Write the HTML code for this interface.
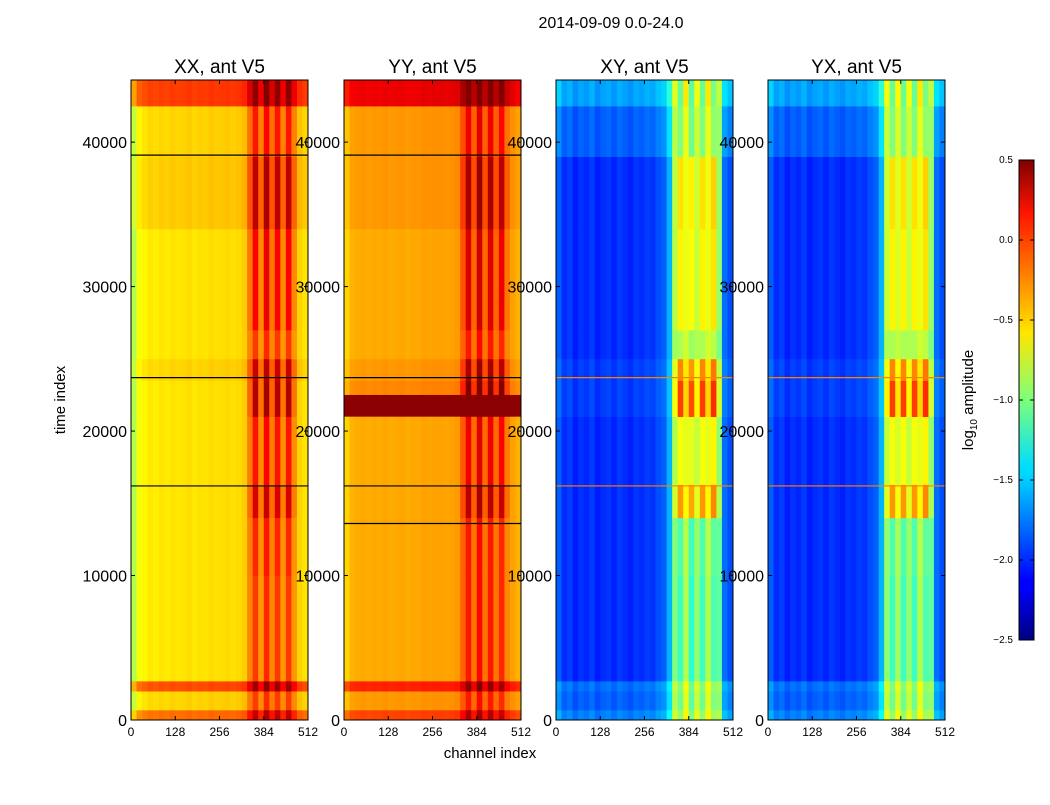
<!DOCTYPE html>
<html><head><meta charset="utf-8"><style>
body{margin:0;background:#fff;font-family:"Liberation Sans",sans-serif}
svg text{font-family:"Liberation Sans",sans-serif}
</style></head><body>
<svg id="fig" width="1050" height="800" xmlns="http://www.w3.org/2000/svg">
<rect width="1050" height="800" fill="#fff"/>
<text x="611" y="28" font-size="16" text-anchor="middle">2014-09-09 0.0-24.0</text>
<defs><linearGradient id="jet" x1="0" y1="1" x2="0" y2="0">
<stop offset="0" stop-color="#00007f"/><stop offset="0.11" stop-color="#0000ff"/><stop offset="0.125" stop-color="#0000ff"/><stop offset="0.34" stop-color="#00d4ff"/><stop offset="0.36" stop-color="#0df"/><stop offset="0.5" stop-color="#7dff7a"/><stop offset="0.64" stop-color="#ffe600"/><stop offset="0.89" stop-color="#ff1400"/><stop offset="1" stop-color="#7f0000"/></linearGradient></defs>
<g id="panels"></g>
<text x="490" y="758" font-size="15" text-anchor="middle">channel index</text>
<text transform="translate(65,400) rotate(-90)" font-size="15" text-anchor="middle">time index</text>
<g>
<rect x="1019" y="160" width="15" height="480" fill="url(#jet)" stroke="#000" stroke-width="1"/>
<g id="cbticks"></g>
<text transform="translate(973,400) rotate(-90)" font-size="15" text-anchor="middle">log<tspan font-size="10" dy="4">10</tspan><tspan dy="-4"> amplitude</tspan></text>
</g>
</svg>
<script>
const titles=["XX, ant V5","YY, ant V5","XY, ant V5","YX, ant V5"];
const xTicks=[0,128,256,384,512];
const yTicks=[0,10000,20000,30000,40000];
const cbTicks=[0.5,0.0,-0.5,-1.0,-1.5,-2.0,-2.5];
// 32 channel bins of 16 channels each
const colXX=[-0.85,-0.65,-0.6,-0.56,-0.58,-0.55,-0.57,-0.54,-0.56,-0.55,-0.53,-0.56,-0.54,-0.55,-0.52,-0.54,-0.53,-0.52,-0.54,-0.52,-0.48,-0.3,-0.15,-0.35,-0.1,-0.3,-0.15,-0.35,-0.15,-0.35,-0.5,-0.55];
const colYY=[-0.5,-0.4,-0.38,-0.37,-0.39,-0.37,-0.38,-0.36,-0.38,-0.37,-0.36,-0.38,-0.37,-0.37,-0.35,-0.36,-0.35,-0.35,-0.36,-0.35,-0.33,-0.2,-0.05,-0.25,0.0,-0.25,-0.05,-0.25,-0.1,-0.3,-0.35,-0.4];
const colXY=[-1.85,-2.0,-1.95,-2.05,-1.98,-2.02,-1.95,-2.05,-2.0,-1.97,-2.03,-1.96,-2.0,-2.04,-1.97,-2.0,-1.95,-1.98,-1.9,-1.85,-1.6,-1.0,-1.2,-0.85,-1.25,-0.95,-1.2,-0.85,-1.15,-1.1,-1.8,-1.9];
const colYX=[-1.85,-2.0,-1.95,-2.05,-1.98,-2.02,-1.95,-2.05,-2.0,-1.97,-2.03,-1.96,-2.0,-2.04,-1.97,-2.0,-1.95,-1.98,-1.9,-1.85,-1.6,-0.95,-1.2,-0.9,-1.2,-0.95,-1.2,-0.85,-1.15,-1.1,-1.8,-1.9];
// time bands (start,end), global offset, extra in hot channels
const bandStart=[0,700,2000,2700,10000,14000,16300,21000,23500,25000,27000,34000,39000,42500];
const bandEnd=[700,2000,2700,10000,14000,16300,21000,23500,25000,27000,34000,39000,42500,44300];
const offXX=[0.35,0.05,0.45,0,0,0,0,0,0.05,0,0,0.08,0.05,0.5];
const hotXX=[0.1,0.05,0.1,0.1,0.15,0.35,0.2,0.45,0.35,0.1,0.25,0.35,0.15,0.1];
const offYY=[0.3,0.05,0.4,0,0,0,0,0.1,0.05,0,0,0.05,0.05,0.55];
const hotYY=[0.1,0.05,0.1,0.1,0.1,0.35,0.2,0.45,0.35,0.1,0.25,0.35,0.15,0.1];
const offXY=[0.25,0.15,0.2,0,0,0,0,0.05,0.05,0,0,0,0.15,0.35];
const hotXY=[0,0,0,0,0.05,0.8,0.5,1.0,0.8,0.3,0.55,0.6,0.05,-0.2];
const offYX=[0.25,0.15,0.2,0,0,0,0,0.05,0.05,0,0,0,0.15,0.35];
const hotYX=[0,0,0,0,0.05,0.8,0.5,1.0,0.8,0.3,0.55,0.6,0.05,-0.2];
const lineTimes=[[39100,23700,16200],[39100,23700,16200,13600],[23700,16200],[23700,16200]];
const yyBand=[21000,22500];
const cols=[colXX,colYY,colXY,colYX],offs=[offXX,offYY,offXY,offYX],hots=[hotXX,hotYY,hotXY,hotYX];
const X0=[131,344,556,768],W=177,TOP=80,BOT=720,TMAX=44300;
const sx=(p,c)=>X0[p]+c/512*W;
const sy=t=>BOT-t/TMAX*(BOT-TOP);
function jet(v){let x=(v+2.5)/3;x=Math.max(0,Math.min(1,x));
 const f=(a)=>Math.max(0,Math.min(1,1.5-Math.abs(4*x-a)));
 return `rgb(${Math.round(255*f(3))},${Math.round(255*f(2))},${Math.round(255*f(1))})`;}
const NS="http://www.w3.org/2000/svg";
const G=document.getElementById('panels');
function mk(tag,at,parent){const e=document.createElementNS(NS,tag);for(const k in at)e.setAttribute(k,at[k]);parent.appendChild(e);return e;}
for(let p=0;p<4;p++){
 const g=mk('g',{},G);
 
 
 for(let c=0;c<32;c++){
  const hot=(c>=21&&c<=29);
  for(let r=0;r<bandStart.length;r++){
   let v=cols[p][c]+offs[p][r]+(hot?hots[p][r]*(c%2?0.3:1.1):0);
   const rc=mk('rect',{x:sx(p,c*16).toFixed(2),y:sy(bandEnd[r]).toFixed(2),width:(W/32+0.4).toFixed(2),height:(sy(bandStart[r])-sy(bandEnd[r])+0.4).toFixed(2),fill:jet(v)},g);
   
   
  }
 }
 if(p===1){const b=mk('rect',{x:X0[p],y:sy(yyBand[1]),width:W,height:sy(yyBand[0])-sy(yyBand[1]),fill:'#8b0000'},g);
  }
 lineTimes[p].forEach(t=>{const l=mk('line',{x1:X0[p],x2:X0[p]+W,y1:sy(t),y2:sy(t),stroke:p<2?'#000':'#ff8000','stroke-width':1.2},g);
  });
 const fr=mk('rect',{x:X0[p],y:TOP,width:W,height:BOT-TOP,fill:'none',stroke:'#000','stroke-width':1},g);
 
 const tt=mk('text',{x:X0[p]+W/2,y:73,'font-size':19,'text-anchor':'middle'},G);tt.textContent=titles[p];
 
 xTicks.forEach(v=>{const x=sx(p,v);
  mk('line',{x1:x,x2:x,y1:BOT,y2:BOT-4,stroke:'#000'},G);mk('line',{x1:x,x2:x,y1:TOP,y2:TOP+4,stroke:'#000'},G);
  const t=mk('text',{x:x,y:736,'font-size':12,'text-anchor':'middle'},G);t.textContent=v;
  });
 yTicks.forEach(v=>{const y=sy(v);
  mk('line',{x1:X0[p],x2:X0[p]+4,y1:y,y2:y,stroke:'#000'},G);mk('line',{x1:X0[p]+W,x2:X0[p]+W-4,y1:y,y2:y,stroke:'#000'},G);
  const t=mk('text',{x:X0[p]-4,y:y+6,'font-size':16,'text-anchor':'end'},G);t.textContent=v;
  });
}
const CB=document.getElementById('cbticks');
cbTicks.forEach(v=>{const y=160+(0.5-v)/3*480;
 mk('line',{x1:1019,x2:1023,y1:y,y2:y,stroke:'#000'},CB);mk('line',{x1:1030,x2:1034,y1:y,y2:y,stroke:'#000'},CB);
 const t=mk('text',{x:1013,y:y+3,'font-size':10,'text-anchor':'end'},CB);t.textContent=(v<0?'\u2212':'')+Math.abs(v).toFixed(1);
 });
</script>
</body></html>
